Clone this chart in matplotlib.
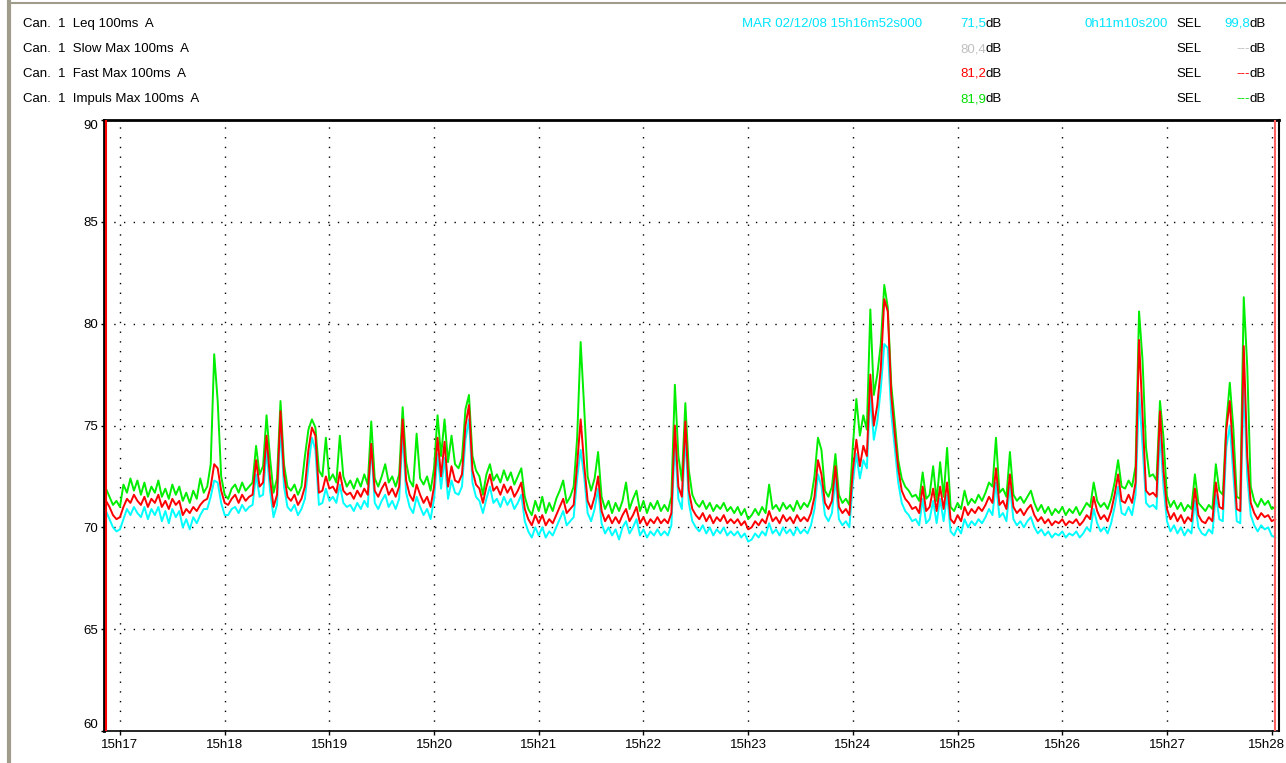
import numpy as np
import matplotlib
matplotlib.use("Agg")
import matplotlib.pyplot as plt
from matplotlib.lines import Line2D
from matplotlib.transforms import ScaledTranslation

plt.rcParams['font.family'] = ['Liberation Sans', 'DejaVu Sans']

# seconds since 15h16m52s, one reading every 2 s
t = np.arange(0, 671, 2)

impulse_max = [
    71.9, 71.5, 71.1, 71.3, 71.0, 72.1, 71.7, 72.4, 71.8, 72.3,
    71.6, 72.2, 71.5, 72.0, 71.7, 72.3, 71.5, 71.9, 71.4, 72.1,
    71.6, 72.0, 71.3, 71.7, 71.2, 71.8, 71.4, 72.4, 71.7, 72.0,
    73.1, 78.5, 76.2, 72.5, 71.6, 71.4, 71.9, 72.1, 71.7, 72.2,
    71.8, 72.0, 72.2, 74.0, 72.6, 73.0, 75.5, 73.4, 71.7, 72.4,
    76.2, 73.1, 72.0, 71.8, 72.1, 71.6, 72.0, 73.5, 74.8, 75.3,
    74.9, 72.8, 72.5, 74.4, 72.3, 72.6, 72.2, 74.5, 72.5, 72.0,
    72.3, 71.9, 72.4, 72.0, 72.6, 72.1, 75.2, 72.4, 72.0, 72.5,
    73.1, 72.2, 72.5, 72.0, 72.6, 75.9, 73.2, 72.3, 72.0, 74.6,
    72.4, 72.1, 72.5, 71.8, 72.9, 75.5, 73.5, 75.3, 73.2, 74.5,
    73.1, 72.9, 73.4, 75.8, 76.5, 73.5, 72.8, 72.5, 71.6, 72.6,
    73.1, 72.3, 72.6, 72.2, 72.8, 72.3, 72.7, 72.1, 72.5, 72.9,
    71.5, 70.9, 70.6, 71.3, 70.8, 71.5, 70.7, 71.2, 70.8, 71.4,
    71.8, 72.3, 71.2, 71.5, 72.0, 74.4, 79.1, 75.9, 72.5, 71.8,
    72.4, 73.7, 71.5, 70.9, 71.3, 70.7, 71.2, 70.8, 71.3, 72.2,
    70.9, 71.4, 71.8, 70.8, 71.3, 70.7, 71.2, 70.9, 71.3, 70.8,
    71.1, 70.8, 71.5, 77.0, 73.5, 72.3, 76.1, 72.8, 71.6, 71.2,
    71.0, 71.3, 70.9, 71.2, 70.8, 71.1, 70.9, 71.2, 70.8, 71.0,
    70.7, 71.0, 70.6, 70.9, 70.4, 70.6, 70.9, 70.6, 71.0, 70.7,
    72.1, 70.9, 71.1, 70.8, 71.2, 70.9, 71.1, 70.8, 71.3, 70.9,
    71.2, 71.0, 71.4, 72.5, 74.4, 73.8, 71.8, 71.5, 72.0, 73.6,
    71.6, 71.2, 71.4, 71.1, 74.0, 76.3, 74.5, 75.5, 74.8, 80.7,
    76.5, 77.5, 79.0, 81.9, 80.8, 77.0, 75.2, 73.3, 72.4, 72.0,
    71.8, 71.5, 71.6, 71.3, 72.7, 71.4, 71.6, 73.0, 71.3, 73.2,
    71.5, 73.9, 71.0, 70.8, 71.2, 70.9, 71.8, 71.1, 71.4, 71.2,
    71.6, 71.3, 71.7, 72.2, 72.0, 74.4, 71.7, 71.9, 71.5, 73.7,
    71.6, 71.3, 71.5, 71.2, 71.5, 71.8, 71.2, 70.8, 71.1, 70.7,
    71.0, 70.6, 70.9, 70.7, 71.0, 70.6, 70.9, 70.7, 71.0, 70.6,
    70.9, 71.2, 71.0, 72.2, 71.3, 71.0, 71.2, 70.9, 71.4, 72.2,
    73.3, 72.0, 71.9, 72.3, 72.0, 73.0, 80.6, 78.2, 73.9, 72.5,
    72.6, 72.3, 76.2, 74.4, 71.5, 71.0, 71.3, 70.9, 71.2, 70.8,
    71.1, 70.9, 72.6, 71.2, 71.0, 70.8, 71.1, 70.9, 73.1, 71.8,
    71.6, 75.1, 77.1, 74.9, 71.5, 71.4, 81.3, 77.9, 72.0, 71.3,
    71.0, 71.4, 71.1, 71.3, 70.9, 71.0,
]

fast_max = [
    71.3, 71.0, 70.6, 70.4, 70.5, 71.0, 71.4, 71.2, 71.6, 71.3,
    71.1, 71.5, 71.0, 71.4, 71.2, 71.6, 71.0, 71.3, 70.9, 71.4,
    71.1, 71.3, 70.6, 70.9, 70.7, 71.0, 70.8, 71.1, 71.3, 71.4,
    72.0, 73.1, 72.9, 71.8, 71.2, 71.1, 71.4, 71.6, 71.2, 71.6,
    71.3, 71.5, 71.6, 73.3, 72.0, 72.2, 74.5, 72.4, 71.0, 71.6,
    75.7, 72.6, 71.5, 71.3, 71.6, 71.1, 71.4, 72.0, 73.8, 74.9,
    74.5, 71.7, 71.8, 72.5, 71.9, 72.0, 71.7, 72.7, 71.8, 71.6,
    71.7, 71.4, 71.8, 71.5, 71.9, 71.6, 74.1, 71.8, 71.5, 71.9,
    72.2, 71.6, 71.9, 71.5, 72.0, 75.3, 72.3, 71.6, 71.3, 72.1,
    71.6, 71.2, 71.5, 71.0, 72.0, 74.4, 72.5, 74.2, 72.0, 73.0,
    72.3, 72.2, 72.6, 75.0, 76.0, 72.8, 72.1, 71.9, 71.2, 72.0,
    72.6, 71.8, 72.0, 71.6, 72.1, 71.7, 72.0, 71.5, 71.8, 72.2,
    70.9, 70.4, 70.1, 70.6, 70.2, 70.6, 70.1, 70.4, 70.2, 70.6,
    71.0, 71.4, 70.7, 70.9, 71.1, 73.1, 75.3, 73.1, 71.3, 70.9,
    71.5, 72.5, 70.8, 70.3, 70.6, 70.2, 70.5, 70.2, 70.6, 70.9,
    70.3, 70.6, 71.0, 70.2, 70.5, 70.1, 70.4, 70.2, 70.5, 70.2,
    70.4, 70.2, 70.7, 75.0, 72.0, 71.5, 75.2, 71.8, 70.9, 70.6,
    70.4, 70.7, 70.3, 70.6, 70.2, 70.5, 70.3, 70.6, 70.2, 70.4,
    70.2, 70.4, 70.1, 70.3, 69.9, 70.0, 70.3, 70.1, 70.4, 70.2,
    70.8, 70.3, 70.5, 70.2, 70.6, 70.3, 70.5, 70.2, 70.6, 70.3,
    70.5, 70.3, 70.7, 71.5, 73.3, 72.6, 71.2, 70.9, 71.3, 73.0,
    71.0, 70.7, 70.9, 70.6, 72.8, 74.3, 73.0, 74.0, 73.5, 77.5,
    75.0, 76.0, 77.8, 81.2, 80.6, 76.5, 74.6, 72.9, 71.8, 71.4,
    71.2, 70.9, 71.0, 70.7, 72.0, 70.8, 71.0, 71.9, 70.8, 72.0,
    70.9, 72.2, 70.4, 70.2, 70.6, 70.3, 71.0, 70.6, 70.9, 70.7,
    71.0, 70.8, 71.1, 71.5, 71.2, 72.9, 71.1, 71.3, 70.9, 72.6,
    71.0, 70.7, 70.9, 70.6, 70.9, 71.1, 70.6, 70.3, 70.5, 70.2,
    70.4, 70.1, 70.3, 70.2, 70.4, 70.1, 70.3, 70.2, 70.4, 70.1,
    70.3, 70.6, 70.4, 71.5, 70.8, 70.4, 70.6, 70.3, 70.8, 71.6,
    72.6, 71.3, 71.2, 71.6, 71.2, 72.2, 79.2, 75.5, 71.8, 71.6,
    71.7, 71.5, 75.7, 72.8, 70.9, 70.4, 70.7, 70.3, 70.6, 70.2,
    70.5, 70.3, 71.9, 70.6, 70.3, 70.2, 70.5, 70.3, 72.2, 71.0,
    70.9, 74.8, 76.2, 73.5, 70.9, 70.8, 78.9, 73.5, 71.2, 70.7,
    70.4, 70.7, 70.5, 70.6, 70.3, 70.4,
]

leq = [
    70.8, 70.4, 70.0, 69.8, 69.9, 70.4, 70.9, 70.6, 71.0, 70.7,
    70.5, 71.0, 70.4, 70.9, 70.6, 71.0, 70.3, 70.8, 70.2, 70.9,
    70.5, 70.8, 70.0, 70.4, 69.9, 70.5, 70.2, 70.6, 70.9, 70.9,
    71.5, 72.3, 72.2, 71.2, 70.6, 70.6, 70.9, 71.0, 70.7, 71.1,
    70.8, 71.0, 71.1, 72.6, 71.5, 71.6, 73.8, 71.8, 70.5, 71.1,
    74.9, 72.0, 71.0, 70.8, 71.1, 70.6, 70.9, 71.4, 73.0, 74.4,
    73.8, 71.1, 71.2, 71.9, 71.3, 71.5, 71.2, 72.1, 71.2, 71.0,
    71.1, 70.8, 71.2, 70.9, 71.3, 71.0, 74.0, 71.2, 70.9, 71.3,
    71.6, 71.0, 71.3, 70.9, 71.4, 74.6, 71.7, 71.0, 70.7, 71.5,
    71.0, 70.6, 70.9, 70.4, 71.4, 73.6, 71.9, 73.4, 71.4, 72.3,
    71.7, 71.6, 72.0, 74.3, 75.3, 72.2, 71.5, 71.3, 70.7, 71.4,
    72.0, 71.2, 71.4, 71.0, 71.5, 71.1, 71.4, 70.9, 71.2, 71.6,
    70.3, 69.8, 69.5, 70.0, 69.6, 70.0, 69.5, 69.8, 69.6, 70.0,
    70.4, 70.8, 70.1, 70.3, 70.5, 72.4, 73.8, 72.5, 70.7, 70.3,
    70.9, 71.9, 70.2, 69.7, 70.0, 69.6, 69.9, 69.4, 70.0, 70.3,
    69.7, 70.0, 70.4, 69.6, 69.9, 69.5, 69.8, 69.6, 69.9, 69.6,
    69.8, 69.6, 70.1, 74.2, 71.4, 70.9, 74.5, 71.2, 70.3, 70.0,
    69.8, 70.1, 69.7, 70.0, 69.6, 69.9, 69.7, 70.0, 69.6, 69.8,
    69.6, 69.8, 69.5, 69.7, 69.3, 69.4, 69.7, 69.5, 69.8, 69.6,
    70.2, 69.7, 69.9, 69.6, 70.0, 69.7, 69.9, 69.6, 70.0, 69.7,
    69.9, 69.7, 70.1, 70.9, 72.6, 72.0, 70.6, 70.3, 70.7, 72.4,
    70.4, 70.1, 70.3, 70.0, 72.2, 73.6, 72.4, 73.3, 72.9, 76.5,
    74.3, 75.2, 76.8, 79.0, 78.8, 75.6, 73.9, 72.2, 71.2, 70.8,
    70.6, 70.3, 70.4, 70.1, 71.4, 70.2, 70.4, 71.3, 70.2, 71.4,
    70.3, 71.6, 69.8, 69.6, 70.0, 69.7, 70.4, 70.0, 70.3, 70.1,
    70.4, 70.2, 70.5, 70.9, 70.6, 72.2, 70.5, 70.7, 70.3, 72.0,
    70.4, 70.1, 70.3, 70.0, 70.3, 70.5, 70.0, 69.7, 69.9, 69.6,
    69.8, 69.5, 69.7, 69.6, 69.8, 69.5, 69.7, 69.6, 69.8, 69.5,
    69.7, 70.0, 69.8, 70.9, 70.2, 69.8, 70.0, 69.7, 70.2, 71.0,
    72.0, 70.7, 70.6, 71.0, 70.6, 71.6, 76.6, 74.0, 71.2, 71.0,
    71.1, 70.9, 74.6, 72.0, 70.3, 69.8, 70.1, 69.7, 70.0, 69.6,
    69.9, 69.7, 71.3, 70.0, 69.7, 69.6, 69.9, 69.7, 71.6, 70.4,
    70.3, 73.9, 75.0, 72.6, 70.3, 70.2, 77.0, 72.5, 70.6, 70.1,
    69.8, 70.1, 69.9, 70.0, 69.6, 69.5,
]

minute_ticks = np.arange(8, 671, 60)
minute_labels = ["15h%02d" % m for m in range(17, 29)]
y_ticks = [60, 65, 70, 75, 80, 85, 90]

fig = plt.figure(figsize=(12.86, 7.63), dpi=100)
ax = fig.add_axes([104 / 1286, 32 / 763, 1175 / 1286, 611 / 763])

ax.plot(t, impulse_max, color="#00ee00", lw=1.4, zorder=3)
ax.plot(t, leq, color="#00ffff", lw=1.4, zorder=4)
ax.plot(t, fast_max, color="#ff0000", lw=1.4, zorder=5)

# cursors at both ends
ax.axvline(0, color="#ff0000", lw=1.5, zorder=6)
ax.axvline(670, color="#ff6060", lw=1.5, zorder=6)

ax.set_xlim(-1.15, 672.2)
ax.set_ylim(60, 90)
ax.set_xticks(minute_ticks)
ax.set_xticklabels(minute_labels)
ax.set_yticks(y_ticks)
ax.set_yticklabels([str(v) for v in y_ticks])
ax.tick_params(axis="both", direction="out", length=3, width=1, labelsize=9.5, pad=3)
ax.tick_params(axis="y", length=2, pad=2)
labels = ax.get_yticklabels()
labels[0].set_va("bottom")
labels[-1].set_va("top")
last = ax.get_xticklabels()[-1]
last.set_transform(last.get_transform() + ScaledTranslation(-5 / 100, 0, fig.dpi_scale_trans))

for v in y_ticks[1:-1]:
    ax.axhline(v, color="black", lw=1.0, ls=(0, (1, 6)), zorder=1)
for m in minute_ticks:
    ax.axvline(m, color="black", lw=1.0, ls=(0, (1, 6)), zorder=1)

for side in ["top", "left"]:
    ax.spines[side].set_linewidth(2)
ax.spines["bottom"].set_linewidth(1.2)
ax.spines["right"].set_linewidth(1.5)

# window frame
fig.add_artist(Line2D([9 / 1286, 9 / 1286], [0, 1], color="#a09c8c", lw=3))
fig.add_artist(Line2D([9 / 1286, 1], [1 - 3 / 763, 1 - 3 / 763], color="#a09c8c", lw=1.5))

fs = 9.5
rows = [24, 49, 74, 99]
names = ["Can.  1  Leq 100ms  A", "Can.  1  Slow Max 100ms  A",
         "Can.  1  Fast Max 100ms  A", "Can.  1  Impuls Max 100ms  A"]
maxima = ["71,5", "80,4", "81,2", "81,9"]
colors = ["#00e5ff", "#c0c0c0", "#ff0000", "#00e000"]
sel_vals = ["99,8", "---", "---", "---"]


def fx(px):
    return px / 1286


def fy(py):
    return 1 - py / 763


for i, y in enumerate(rows):
    fig.text(fx(23), fy(y), names[i], fontsize=fs, va="center", ha="left")
    fig.text(fx(986), fy(y), maxima[i], fontsize=fs, va="center", ha="right", color=colors[i])
    fig.text(fx(986), fy(y), "dB", fontsize=fs, va="center", ha="left")
    fig.text(fx(1176), fy(y), "SEL", fontsize=fs, va="center", ha="left")
    fig.text(fx(1250), fy(y), sel_vals[i], fontsize=fs, va="center", ha="right", color=colors[i])
    fig.text(fx(1250), fy(y), "dB", fontsize=fs, va="center", ha="left")

fig.text(fx(922), fy(rows[0]), "MAR 02/12/08 15h16m52s000", fontsize=fs,
         va="center", ha="right", color=colors[0])
fig.text(fx(1168), fy(rows[0]), "0h11m10s200", fontsize=fs,
         va="center", ha="right", color=colors[0])

fig.savefig("out.png", dpi=100)
